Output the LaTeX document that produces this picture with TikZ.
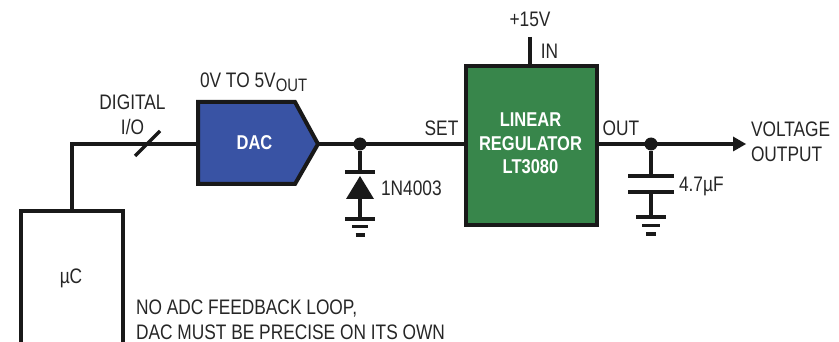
\documentclass[tikz,border=0pt]{standalone}
\usepackage{fontspec}
\setmainfont[FakeStretch=0.825]{Liberation Sans}
\begin{document}
\begin{tikzpicture}[x=1pt,y=-1pt,
  wire/.style={line width=3.4pt,line cap=butt,line join=miter,black!90},
  blockline/.style={line width=4pt,line join=miter,draw=black!90},
  lbl/.style={inner sep=0pt,outer sep=0pt,text=black!85,font=\fontsize{21}{24.5}\selectfont,align=center},
  whitelbl/.style={inner sep=0pt,text=white,font=\fontsize{20}{23.7}\selectfont\bfseries,align=center},
  dotnode/.style={circle,fill=black!90,inner sep=0pt,minimum size=13pt},
  gbar/.style={line width=3.2pt,black!90}]
\useasboundingbox (0,0) rectangle (839,342);
\clip (0,0) rectangle (839,342);
% blocks
\node[blockline,fill=white,rectangle,inner sep=0pt,minimum width=102pt,minimum height=140pt,anchor=north west] (uc) at (18.5,209) {};
\node[lbl] at (71,278) {µC};
\filldraw[blockline,fill={rgb,255:red,57;green,83;blue,164}] (198,102) -- (295,102) -- (318,144) -- (295,184) -- (198,184) -- cycle;
\coordinate (dacin) at (198,144);
\coordinate (dacout) at (318,144);
\node[whitelbl] (dac) at (254.5,143) {DAC};
\node[blockline,fill={rgb,255:red,56;green,134;blue,75},rectangle,inner sep=0pt,minimum width=131.5pt,minimum height=159pt,anchor=north west] (reg) at (463.5,64) {};
\node[whitelbl] (regt) at (530.5,143.5) {LINEAR\\REGULATOR\\LT3080};
% coordinates
\coordinate (ucout) at (72,211);
\coordinate (bend) at (72,144);
\coordinate (set) at (465,144);
\coordinate (out) at (597,144);
\coordinate (in) at (530,66);
\coordinate (vtop) at (530,37);
\coordinate (vout) at (746,144);
\node[dotnode] (d1) at (360,144) {};
\node[dotnode] (d2) at (651,144) {};
% wires
\draw[wire] (ucout) -- (bend) -- (dacin);
\draw[wire] (135,156) -- (160,131);
\draw[wire] (dacout) -- (set);
\draw[wire] (vtop) -- (in);
\draw[wire] (out) -- (733,144);
\fill[black!90] (vout) -- (733,136.5) -- (733,151.5) -- cycle;
% diode
\coordinate (k) at (360,172);
\coordinate (g1) at (360,219);
\draw[wire] (d1) -- (k);
\draw[gbar] (345,172) -- (375,172);
\fill[black!90] (360,176) -- (374,199) -- (346,199) -- cycle;
\draw[wire] (360,199) -- (g1);
\draw[gbar] (345,219) -- (375,219);
\draw[gbar] (352,226.5) -- (368,226.5);
\draw[gbar] (355.5,235) -- (364.5,235);
% capacitor
\coordinate (c1) at (651,176);
\coordinate (c2) at (651,192);
\coordinate (g2) at (651,217);
\draw[wire] (d2) -- (c1);
\draw[gbar] (628,176) -- (674,176);
\draw[gbar] (628,192) -- (674,192);
\draw[wire] (c2) -- (g2);
\draw[gbar] (636,217) -- (666,217);
\draw[gbar] (642,225.5) -- (660,225.5);
\draw[gbar] (646,234) -- (656,234);
% labels
\node[lbl] at (132.5,115) {DIGITAL\\I/O};
\node[lbl,anchor=west] at (200,82.5) {0V TO 5V\raisebox{-4pt}{\fontsize{18}{18}\selectfont OUT}};
\node[lbl] at (441.5,128) {SET};
\node[lbl] at (621,128.5) {OUT};
\node[lbl] at (530,19) {+15V};
\node[lbl] at (549.5,51) {IN};
\node[lbl,anchor=west] at (381,188) {1N4003};
\node[lbl,anchor=west] at (679,186) {4.7µF};
\node[lbl,anchor=west,align=left] at (751,142) {VOLTAGE\\OUTPUT};
\node[lbl,anchor=north west,align=left] at (136,300) {NO ADC FEEDBACK LOOP,\\DAC MUST BE PRECISE ON ITS OWN};
\end{tikzpicture}
\end{document}
